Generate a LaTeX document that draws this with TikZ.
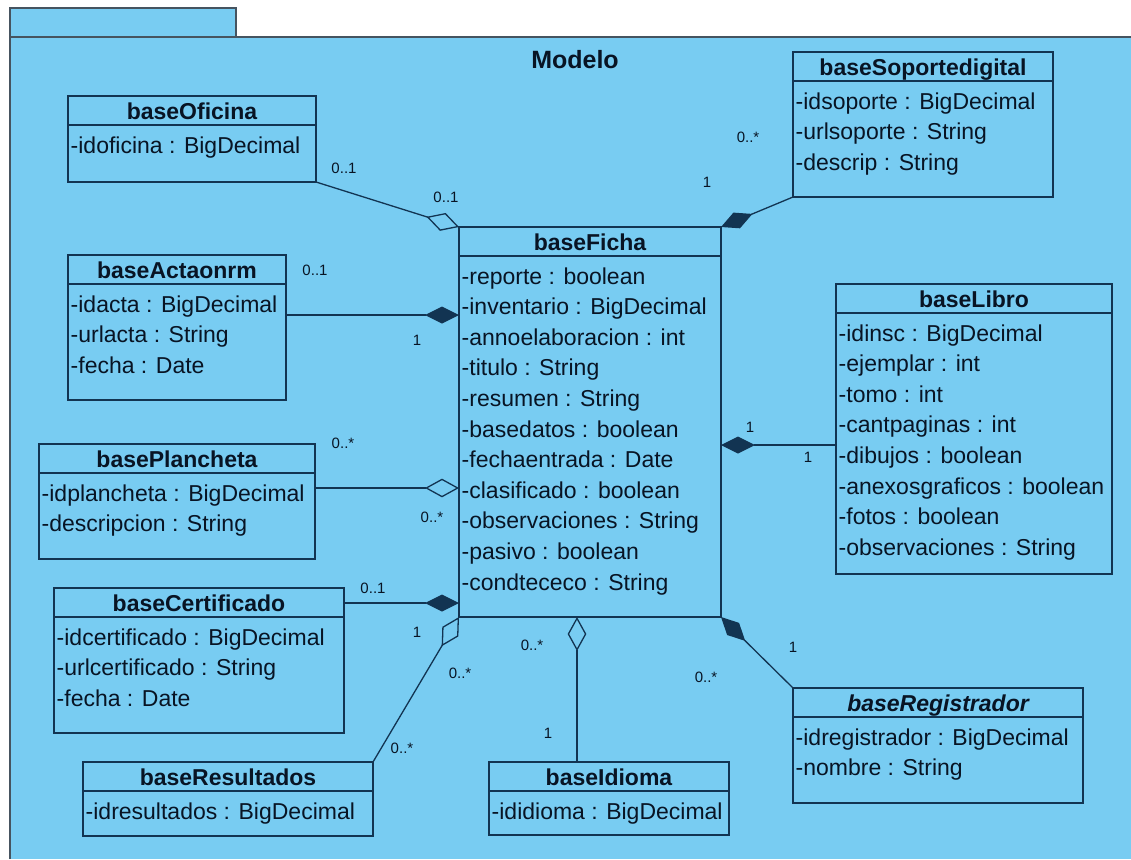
\documentclass[tikz,border=0pt]{standalone}
\usepackage{fontspec}
\setmainfont{Liberation Sans}
\usetikzlibrary{arrows.meta,calc}

\definecolor{pkgfill}{RGB}{120,204,242}
\definecolor{ink}{RGB}{8,20,36}
\definecolor{edge}{RGB}{18,52,82}
\definecolor{pkgedge}{RGB}{70,84,96}

\tikzset{
  frame/.style={draw=edge, line width=1.4pt},
  classframe/.style={frame, rectangle, inner sep=0pt, outer sep=0pt},
  classtitle/.style={font=\fontsize{23}{27}\selectfont\bfseries, text=ink, inner sep=0pt},
  attr/.style={font=\fontsize{23}{27}\selectfont, text=ink, inner sep=0pt},
  mult/.style={font=\fontsize{15}{17}\selectfont, text=ink, inner sep=0pt},
  pkgtitle/.style={font=\fontsize{25}{30}\selectfont\bfseries, text=ink, inner sep=0pt},
  link/.style={draw=edge, line width=1.3pt},
  aggr/.style={link, -{Diamond[open, length=34pt 0 0, width'=0pt 0.55]}},
  comp/.style={link, -{Diamond[length=34pt 0 0, width'=0pt 0.5]}},
}

% UML class: name, left, top, right, bottom, title, attributes
\newcommand\umlclass[7]{%
  \node[classframe, anchor=north west,
        minimum width={(#4)-(#2)}, minimum height={(#5)-(#3)}] (#1) at (#2,#3) {};
  \draw[frame] ($(#1.north west)+(0,29)$) -- ($(#1.north east)+(0,29)$);
  \node[classtitle, anchor=base] (#1-title) at ($(#1.north)+(0,23)$) {#6};
  \foreach \attrtext [count=\attrno from 0] in {#7}
    \node[attr, anchor=base west] (#1-attr\attrno)
      at ($(#1.north west)+(2.5,{57+30.6*\attrno})$) {\attrtext};
}

\begin{document}
\begin{tikzpicture}[x=1pt, y=-1pt]
  \useasboundingbox (0,0) rectangle (1131,859);
  \fill[white] (0,0) rectangle (1131,859);

  % package body and tab
  \fill[pkgfill] (10,37) rectangle (1131,859);
  \draw[draw=pkgedge, line width=1.4pt] (10,859) -- (10,37) -- (1131,37);
  \filldraw[fill=pkgfill, draw=pkgedge, line width=1.4pt] (10,8) rectangle (236,37);
  \node[pkgtitle] (pkgname) at (575,60) {Modelo};

  % classes
  \umlclass{oficina}{68}{96}{316}{182}{baseOficina}{-idoficina : BigDecimal}
  \umlclass{soporte}{793}{52}{1053}{197}{baseSoportedigital}
    {-idsoporte : BigDecimal, -urlsoporte : String, -descrip : String}
  \umlclass{ficha}{459}{227}{721}{617}{baseFicha}
    {-reporte : boolean, -inventario : BigDecimal, -annoelaboracion : int,
     -titulo : String, -resumen : String, -basedatos : boolean,
     -fechaentrada : Date, -clasificado : boolean, -observaciones : String,
     -pasivo : boolean, -condtececo : String}
  \umlclass{acta}{68}{255}{286}{400}{baseActaonrm}
    {-idacta : BigDecimal, -urlacta : String, -fecha : Date}
  \umlclass{plancheta}{39}{444}{315}{559}{basePlancheta}
    {-idplancheta : BigDecimal, -descripcion : String}
  \umlclass{libro}{836}{284}{1112}{574}{baseLibro}
    {-idinsc : BigDecimal, -ejemplar : int, -tomo : int, -cantpaginas : int,
     -dibujos : boolean, -anexosgraficos : boolean, -fotos : boolean,
     -observaciones : String}
  \umlclass{certificado}{54}{588}{344}{733}{baseCertificado}
    {-idcertificado : BigDecimal, -urlcertificado : String, -fecha : Date}
  \umlclass{resultados}{83}{762}{373}{836}{baseResultados}{-idresultados : BigDecimal}
  \umlclass{idioma}{489}{762}{729}{835}{baseIdioma}{-ididioma : BigDecimal}
  \umlclass{registrador}{793}{688}{1083}{803}{\itshape baseRegistrador}
    {-idregistrador : BigDecimal, -nombre : String}

  % connector end points on the class borders
  \path (acta.north east) ++(0,60) coordinate (actaEnd);
  \path (plancheta.north east) ++(0,44) coordinate (planEnd);
  \path (libro.north west) ++(0,161) coordinate (libroEnd);
  \path (certificado.north east) ++(0,15) coordinate (certEnd);
  \path (idioma.north west) ++(88,0) coordinate (idiomaEnd);

  % associations
  \draw[aggr] (oficina.south east) -- (ficha.north west);
  \draw[comp] (soporte.south west) -- (ficha.north east);
  \draw[comp] (actaEnd) -- (actaEnd -| ficha.west);
  \draw[aggr] (planEnd) -- (planEnd -| ficha.west);
  \draw[comp] (libroEnd) -- (libroEnd -| ficha.east);
  \draw[comp] (certEnd) -- (certEnd -| ficha.west);
  \draw[aggr] (resultados.north east) -- (ficha.south west);
  \draw[aggr] (idiomaEnd) -- (idiomaEnd |- ficha.south);
  \draw[comp] (registrador.north west) -- (ficha.south east);

  % multiplicities
  \node[mult] (m-of1) at (344,168) {0..1};
  \node[mult] (m-of2) at (446,197) {0..1};
  \node[mult] (m-so1) at (748,137) {0..*};
  \node[mult] (m-so2) at (707,182) {1};
  \node[mult] (m-ac1) at (315,270) {0..1};
  \node[mult] (m-ac2) at (417,340) {1};
  \node[mult] (m-pl1) at (343,443) {0..*};
  \node[mult] (m-pl2) at (432,517) {0..*};
  \node[mult] (m-li1) at (750,427) {1};
  \node[mult] (m-li2) at (808,457) {1};
  \node[mult] (m-ce1) at (373,588) {0..1};
  \node[mult] (m-ce2) at (417,632) {1};
  \node[mult] (m-re1) at (402,748) {0..*};
  \node[mult] (m-re2) at (460,673) {0..*};
  \node[mult] (m-id1) at (532,645) {0..*};
  \node[mult] (m-id2) at (548,733) {1};
  \node[mult] (m-rg1) at (793,647) {1};
  \node[mult] (m-rg2) at (706,677) {0..*};
\end{tikzpicture}
\end{document}
